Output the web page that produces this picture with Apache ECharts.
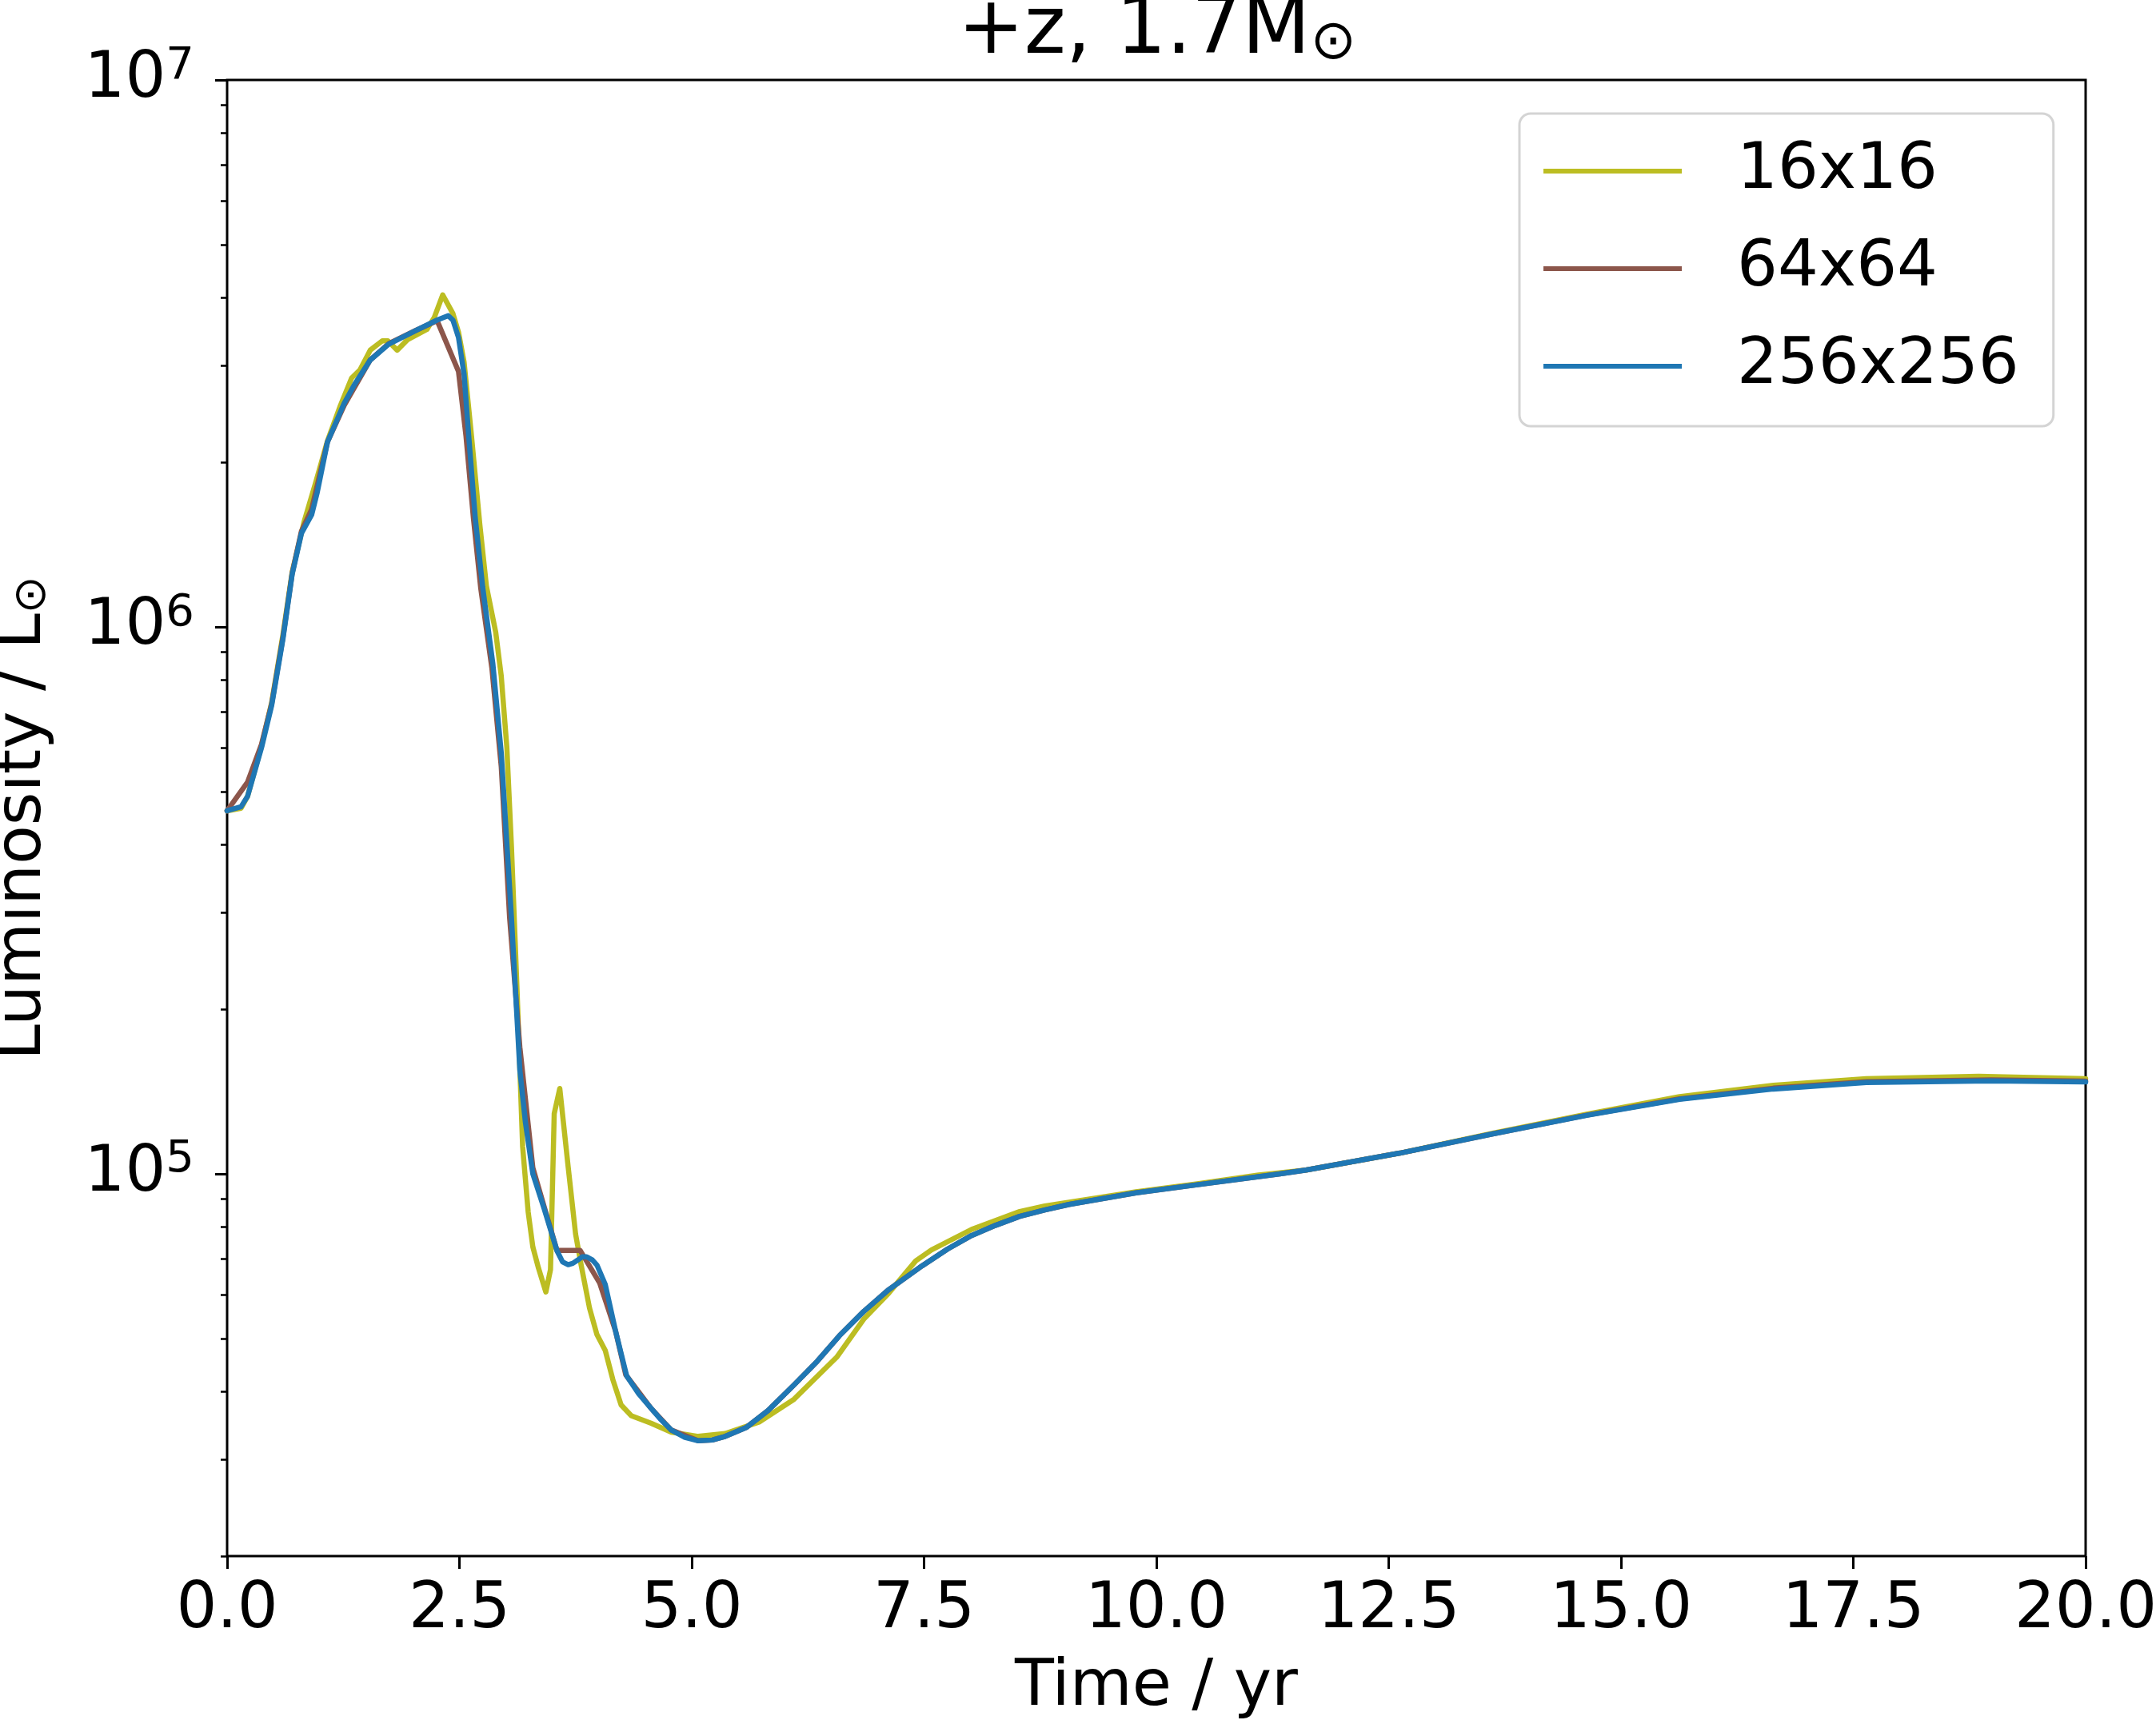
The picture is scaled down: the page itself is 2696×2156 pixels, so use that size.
<!DOCTYPE html>
<html lang="en">
<head>
    <meta charset="UTF-8">
    <title>+z, 1.7 Msun luminosity</title>
    <script src="https://cdn.jsdelivr.net/npm/echarts/dist/echarts.min.js"></script>
    <style>
        html, body { margin: 0; padding: 0; background: #fff; }
        #chart { width: 2696px; height: 2156px; }
    </style>
</head>
<body>
    <div id="chart"></div>
    <script type="text/javascript">
        // time in yr, luminosity in Lsun
        const seriesNames = ['16x16', '64x64', '256x256'];
        const seriesColors = ['#bcbd22', '#8c564b', '#1f77b4'];

        const t16 = [0.00, 0.15, 0.22, 0.37, 0.48, 0.60, 0.70, 0.83, 0.95, 1.08, 1.22, 1.34, 1.43, 1.54, 1.67,
            1.73, 1.83, 1.94, 2.15, 2.23, 2.32, 2.43, 2.49, 2.55, 2.63, 2.72, 2.79, 2.89, 2.95, 3.01,
            3.06, 3.12, 3.18, 3.24, 3.29, 3.35, 3.43, 3.48, 3.52, 3.58, 3.67, 3.75, 3.81, 3.90, 3.98,
            4.07, 4.15, 4.24, 4.35, 4.56, 4.78, 5.07, 5.36, 5.73, 6.10, 6.56, 6.85, 7.12, 7.41, 7.58,
            8.01, 8.53, 8.80, 9.78, 10.44, 11.10, 11.61, 12.62, 13.62, 14.63, 15.63, 16.64, 17.64, 18.85, 20.00];
        const lum16 = [4.61e5, 4.66e5, 4.90e5, 6.05e5, 7.28e5, 9.66e5, 1.259e6, 1.560e6, 1.828e6, 2.188e6, 2.541e6, 2.851e6, 2.951e6, 3.206e6, 3.334e6,
            3.334e6, 3.206e6, 3.350e6, 3.499e6, 3.681e6, 4.046e6, 3.741e6, 3.459e6, 3.048e6, 2.234e6, 1.535e6, 1.189e6, 9.79e5, 8.13e5, 6.03e5,
            3.96e5, 2.17e5, 1.122e5, 8.51e4, 7.35e4, 6.73e4, 6.08e4, 6.68e4, 1.288e5, 1.432e5, 1.03e5, 7.76e4, 6.81e4, 5.68e4, 5.08e4,
            4.75e4, 4.21e4, 3.78e4, 3.61e4, 3.50e4, 3.37e4, 3.31e4, 3.35e4, 3.52e4, 3.87e4, 4.62e4, 5.42e4, 6.05e4, 6.93e4, 7.26e4,
            7.91e4, 8.53e4, 8.73e4, 9.27e4, 9.59e4, 9.95e4, 1.016e5, 1.091e5, 1.186e5, 1.285e5, 1.384e5, 1.452e5, 1.493e5, 1.507e5, 1.493e5];

        const t64 = [0.00, 0.22, 0.37, 0.48, 0.60, 0.70, 0.80, 0.91, 1.08, 1.26, 1.54, 1.74, 2.03, 2.26, 2.49,
            2.57, 2.65, 2.73, 2.85, 2.95, 3.04, 3.15, 3.29, 3.42, 3.55, 3.80, 4.01, 4.18, 4.29, 4.56,
            4.78, 5.07, 5.22, 5.36, 5.59, 5.82, 6.10, 6.35, 6.59, 6.85, 7.12, 7.48, 7.75, 8.01, 8.27,
            8.53, 8.80, 9.06, 9.78, 10.44, 11.33, 11.61, 12.62, 13.62, 14.63, 15.63, 16.64, 17.64, 18.98, 20.00];
        const lum64 = [4.61e5, 5.20e5, 6.10e5, 7.24e5, 9.55e5, 1.253e6, 1.496e6, 1.641e6, 2.178e6, 2.541e6, 3.076e6, 3.296e6, 3.483e6, 3.631e6, 2.931e6,
            2.239e6, 1.585e6, 1.175e6, 8.39e5, 5.56e5, 2.94e5, 1.706e5, 1.026e5, 8.61e4, 7.24e4, 7.24e4, 6.31e4, 5.16e4, 4.29e4, 3.73e4,
            3.40e4, 3.25e4, 3.26e4, 3.31e4, 3.44e4, 3.69e4, 4.11e4, 4.54e4, 5.06e4, 5.60e4, 6.14e4, 6.79e4, 7.28e4, 7.71e4, 8.05e4,
            8.36e4, 8.59e4, 8.79e4, 9.23e4, 9.55e4, 1.0e5, 1.016e5, 1.091e5, 1.183e5, 1.280e5, 1.371e5, 1.434e5, 1.474e5, 1.485e5, 1.478e5];

        const t256 = [0.00, 0.15, 0.22, 0.37, 0.48, 0.60, 0.70, 0.80, 0.91, 0.97, 1.08, 1.26, 1.37, 1.54, 1.74,
            2.03, 2.26, 2.38, 2.43, 2.49, 2.55, 2.60, 2.67, 2.75, 2.86, 2.95, 3.06, 3.15, 3.21, 3.29,
            3.41, 3.55, 3.61, 3.67, 3.72, 3.77, 3.82, 3.87, 3.93, 3.98, 4.07, 4.18, 4.30, 4.43, 4.56,
            4.67, 4.78, 4.92, 5.07, 5.22, 5.36, 5.59, 5.82, 6.10, 6.35, 6.59, 6.85, 7.12, 7.48, 7.75,
            8.01, 8.27, 8.53, 8.80, 9.06, 9.78, 10.44, 11.33, 11.61, 12.62, 13.62, 14.63, 15.63, 16.64, 17.64,
            18.98, 20.00];
        const lum256 = [4.61e5, 4.69e5, 4.90e5, 6.01e5, 7.19e5, 9.48e5, 1.247e6, 1.483e6, 1.603e6, 1.762e6, 2.178e6, 2.564e6, 2.773e6, 3.076e6, 3.289e6,
            3.483e6, 3.639e6, 3.707e6, 3.639e6, 3.381e6, 2.897e6, 2.234e6, 1.585e6, 1.183e6, 8.55e5, 5.89e5, 2.94e5, 1.549e5, 1.242e5, 1.0e5,
            8.65e4, 7.23e4, 6.90e4, 6.82e4, 6.86e4, 6.95e4, 7.05e4, 7.05e4, 6.96e4, 6.81e4, 6.27e4, 5.16e4, 4.27e4, 3.96e4, 3.73e4,
            3.55e4, 3.40e4, 3.30e4, 3.25e4, 3.26e4, 3.31e4, 3.44e4, 3.69e4, 4.11e4, 4.54e4, 5.06e4, 5.60e4, 6.14e4, 6.79e4, 7.28e4,
            7.71e4, 8.05e4, 8.36e4, 8.59e4, 8.79e4, 9.23e4, 9.55e4, 1.0e5, 1.016e5, 1.091e5, 1.183e5, 1.279e5, 1.368e5, 1.429e5, 1.469e5,
            1.479e5, 1.472e5];

        // axis ticks
        const yMajorTicks = [1e5, 1e6, 1e7];
        const yMinorTicks = [2e4, 3e4, 4e4, 5e4, 6e4, 7e4, 8e4, 9e4,
            2e5, 3e5, 4e5, 5e5, 6e5, 7e5, 8e5, 9e5,
            2e6, 3e6, 4e6, 5e6, 6e6, 7e6, 8e6, 9e6];

        const FONT = 'DejaVu Sans';

        function pairs(ts, ls) {
            return ts.map((t, i) => [t, ls[i]]);
        }

        function lineSeries(name, color, ts, ls) {
            return {
                name: name,
                type: 'line',
                data: pairs(ts, ls),
                showSymbol: false,
                symbol: 'none',
                color: color,
                itemStyle: { color: color },
                lineStyle: { color: color, width: 6.5, cap: 'round', join: 'round' },
                emphasis: { disabled: true }
            };
        }

        const chart = echarts.init(document.getElementById('chart'));
        chart.setOption({
            animation: false,
            backgroundColor: '#ffffff',
            title: {
                text: '{t|+z, 1.7M}{s|⊙}',
                left: 1447,
                top: -9,
                padding: 0,
                textAlign: 'center',
                textStyle: {
                    fontFamily: FONT,
                    fontSize: 99,
                    fontWeight: 'normal',
                    color: '#000',
                    rich: {
                        t: { fontFamily: FONT, fontSize: 99, lineHeight: 99, color: '#000' },
                        s: { fontFamily: FONT, fontSize: 69, lineHeight: 48, verticalAlign: 'bottom', color: '#000' }
                    }
                }
            },
            legend: {
                orient: 'vertical',
                left: 1900,
                top: 142,
                padding: [22, 43, 25, 30],
                itemGap: 22,
                itemWidth: 173,
                itemHeight: 6,
                icon: 'rect',
                borderColor: '#d4d4d4',
                borderWidth: 3,
                borderRadius: 14,
                backgroundColor: '#ffffff',
                selectedMode: false,
                textStyle: {
                    fontFamily: FONT,
                    fontSize: 80,
                    lineHeight: 100,
                    color: '#000',
                    padding: [0, 0, 0, 64]
                },
                data: seriesNames
            },
            grid: {
                left: 284,
                right: 88,
                top: 100,
                bottom: 210,
                show: true,
                borderColor: '#000',
                borderWidth: 3,
                backgroundColor: 'transparent',
                containLabel: false,
                outerBoundsMode: 'none'
            },
            xAxis: {
                type: 'value',
                min: 0,
                max: 20,
                interval: 2.5,
                name: 'Time / yr',
                nameLocation: 'middle',
                nameGap: 125,
                nameTextStyle: { fontFamily: FONT, fontSize: 80, color: '#000' },
                axisLine: { show: false },
                axisTick: { show: true, length: 16, lineStyle: { color: '#000', width: 3 } },
                axisLabel: {
                    fontFamily: FONT, fontSize: 80, color: '#000', margin: 28,
                    showMinLabel: true, showMaxLabel: true,
                    formatter: v => v.toFixed(1)
                },
                splitLine: { show: false }
            },
            yAxis: [{
                type: 'log',
                logBase: 10,
                min: 2e4,
                max: 1e7,
                position: 'left',
                name: '{a|Luminosity / L}{s|⊙}',
                nameLocation: 'middle',
                nameRotate: 90,
                nameGap: 215,
                nameTextStyle: {
                    fontFamily: FONT, fontSize: 80, color: '#000',
                    rich: {
                        a: { fontFamily: FONT, fontSize: 80, lineHeight: 80, color: '#000' },
                        s: { fontFamily: FONT, fontSize: 56, lineHeight: 36, verticalAlign: 'bottom', color: '#000' }
                    }
                },
                axisLine: { show: false },
                axisTick: { show: true, length: 15, customValues: yMajorTicks, lineStyle: { color: '#000', width: 3 } },
                axisLabel: {
                    customValues: yMajorTicks,
                    margin: 41,
                    formatter: v => '{b|10}{s|' + Math.round(Math.log10(v)) + '}',
                    rich: {
                        b: { fontFamily: FONT, fontSize: 80, lineHeight: 90, color: '#000' },
                        s: { fontFamily: FONT, fontSize: 56, lineHeight: 40, verticalAlign: 'top', color: '#000' }
                    }
                },
                splitLine: { show: false },
                minorTick: { show: false }
            }, {
                type: 'log',
                logBase: 10,
                min: 2e4,
                max: 1e7,
                position: 'left',
                offset: 0,
                axisLine: { show: false },
                axisTick: { show: true, length: 8, customValues: yMinorTicks, lineStyle: { color: '#000', width: 2.5 } },
                axisLabel: { show: false },
                splitLine: { show: false }
            }],
            series: [
                lineSeries(seriesNames[0], seriesColors[0], t16, lum16),
                lineSeries(seriesNames[1], seriesColors[1], t64, lum64),
                lineSeries(seriesNames[2], seriesColors[2], t256, lum256)
            ]
        });
    </script>
</body>
</html>
